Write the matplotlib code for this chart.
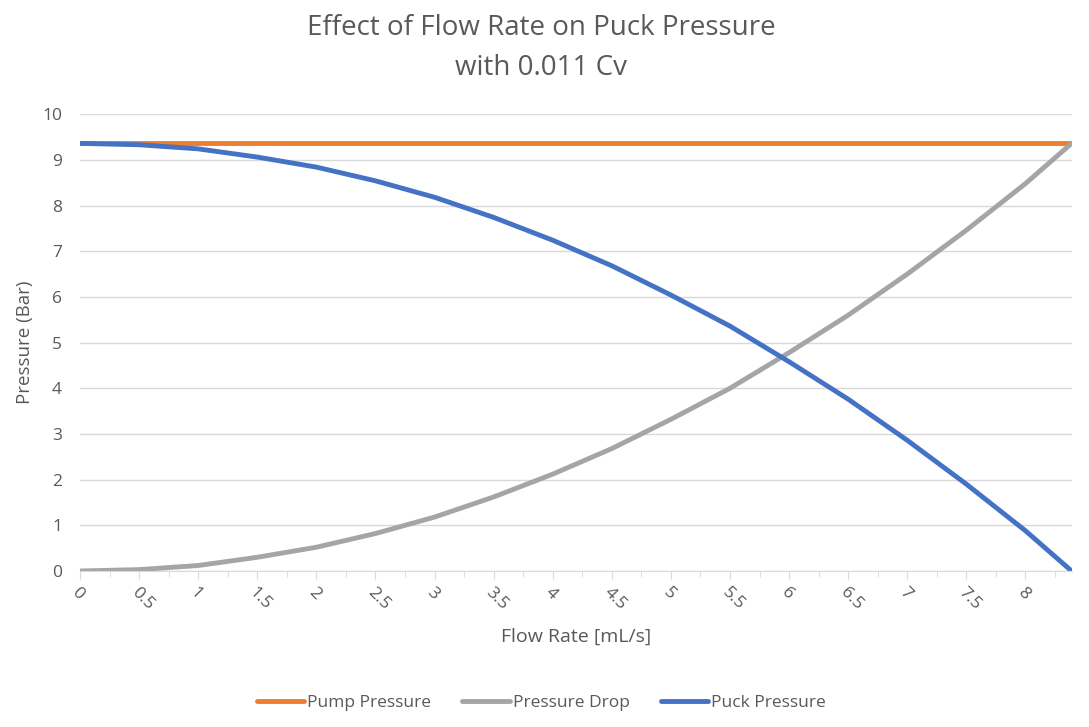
import numpy as np
import matplotlib.pyplot as plt
from matplotlib.ticker import MultipleLocator

plt.rcParams['font.family'] = ['Open Sans', 'DejaVu Sans']

# values
flow = [0, 0.5, 1, 1.5, 2, 2.5, 3, 3.5, 4, 4.5, 5, 5.5, 6, 6.5, 7, 7.5, 8, 8.39]
pump_pressure = [9.36] * len(flow)
pressure_drop = [0, 0.03, 0.12, 0.30, 0.52, 0.82, 1.18, 1.62, 2.12, 2.68,
                 3.32, 4.00, 4.78, 5.60, 6.50, 7.46, 8.48, 9.36]
puck_pressure = [9.36, 9.33, 9.24, 9.06, 8.84, 8.54, 8.18, 7.74, 7.24, 6.68,
                 6.04, 5.36, 4.58, 3.76, 2.86, 1.90, 0.88, 0.0]

txt = '#595959'
fig = plt.figure(figsize=(10.89, 7.27), dpi=100)
ax = fig.add_axes([0.0735, 0.2146, 0.9105, 0.6284])

ax.plot(flow, pump_pressure, color='#ED7D31', lw=3.5, label='Pump Pressure', solid_capstyle='round')
ax.plot(flow, pressure_drop, color='#A5A5A5', lw=3.5, label='Pressure Drop', solid_capstyle='round')
ax.plot(flow, puck_pressure, color='#4472C4', lw=3.5, label='Puck Pressure', solid_capstyle='round')

ax.set_xlim(0, 8.39)
ax.set_ylim(0, 10)
ax.yaxis.set_major_locator(MultipleLocator(1))
ax.xaxis.set_major_locator(MultipleLocator(0.5))
ax.xaxis.set_minor_locator(MultipleLocator(0.25))
ax.grid(axis='y', color='#D9D9D9', lw=1)
ax.set_axisbelow(True)
for s in ['top', 'right', 'left']:
    ax.spines[s].set_visible(False)
ax.spines['bottom'].set_color('#D9D9D9')
ax.tick_params(axis='y', length=0, labelsize=12.5, colors=txt, pad=13)
ax.tick_params(axis='x', which='major', length=6, color='#D9D9D9', labelsize=12.5, colors=txt, pad=4)
ax.tick_params(axis='x', which='minor', length=4, color='#D9D9D9')
xt = np.arange(0, 8.01, 0.5)
ax.set_xticks(xt)
ax.set_xticklabels(['%g' % v for v in xt], rotation=-45, ha='left', va='top', rotation_mode='anchor')

ax.set_xlabel('Flow Rate [mL/s]', fontsize=14, color=txt, labelpad=10)
ax.set_ylabel('Pressure (Bar)', fontsize=13.5, color=txt, labelpad=6)

fig.text(0.497, 0.962, 'Effect of Flow Rate on Puck Pressure', ha='center', va='center', fontsize=20, color=txt)
fig.text(0.497, 0.907, 'with 0.011 Cv', ha='center', va='center', fontsize=20, color=txt)

fig.legend(loc='center', bbox_to_anchor=(0.497, 0.033), ncol=3, frameon=False,
           fontsize=12.5, labelcolor=txt, handlelength=2.75, handletextpad=0.15, columnspacing=1.8)

fig.savefig('out.png', dpi=100)
